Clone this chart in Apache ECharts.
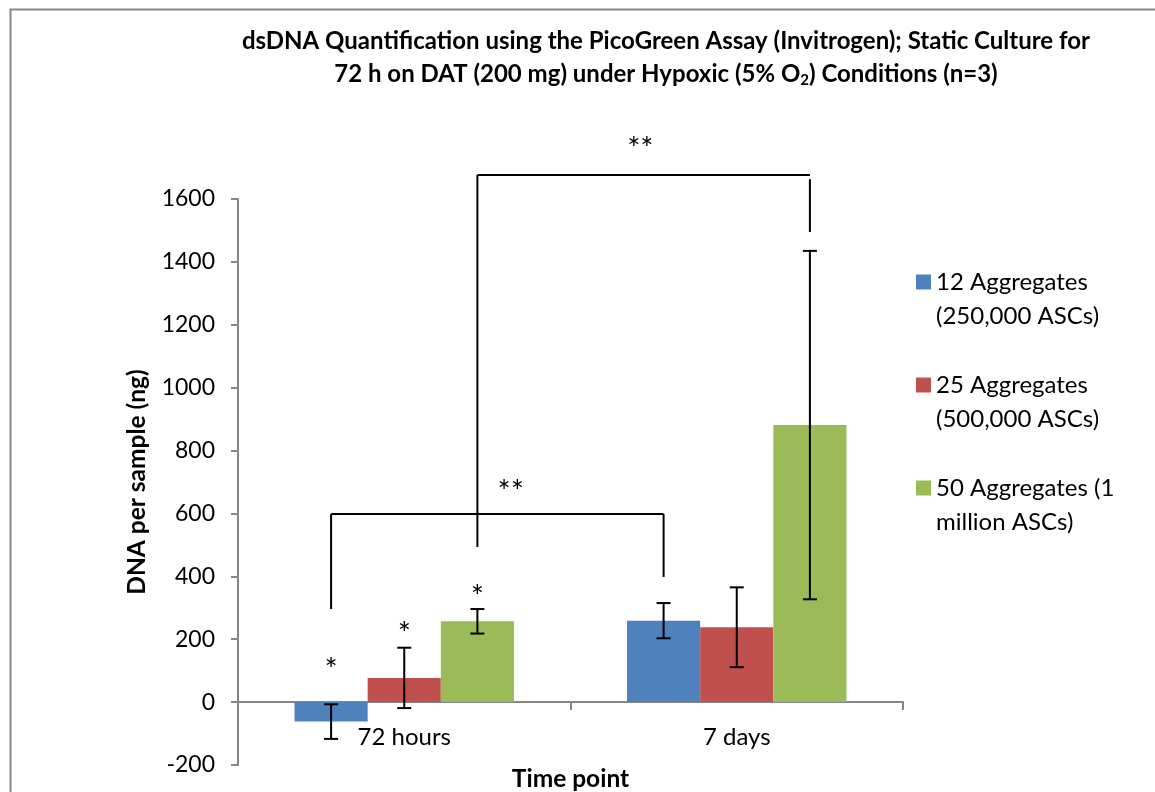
<!DOCTYPE html>
<html>
<head>
<meta charset="utf-8">
<script src="https://cdn.jsdelivr.net/npm/echarts@6/dist/echarts.min.js"></script>
<style>
html,body{margin:0;padding:0;background:#fff;}
#main{width:1155px;height:792px;}
</style>
</head>
<body>
<div id="main"></div>
<script>
// ---- data ----
const categories = ['72 hours', '7 days'];
const seriesNames = ['12 Aggregates\n(250,000 ASCs)', '25 Aggregates\n(500,000 ASCs)', '50 Aggregates (1\nmillion ASCs)'];
const agg12 = [-62, 259];
const agg12Err = [55, 56];
const agg25 = [77, 238];
const agg25Err = [96, 127];
const agg50 = [257, 881];
const agg50Err = [39, 554];
const yMin = -200, yMax = 1600, yStep = 200;
// significance annotations: [x (in category bands, 0 = first category), value]
const bracketSegments = [
  [-0.22, 296, -0.22, 598], [-0.22, 598, 0.78, 598], [0.78, 598, 0.78, 398],
  [0.22, 493, 0.22, 1676], [0.22, 1676, 1.22, 1676], [1.22, 1663, 1.22, 1495]
];
const starLabels = [
  [-0.22, 128, '*'], [0, 242, '*'], [0.22, 360, '*'],
  [0.32, 693, '**'], [0.71, 1784, '**']
];

const colors = ['#4F81BD', '#C0504D', '#9BBB59'];
const FONT = 'Lato';
const chart = echarts.init(document.getElementById('main'));

function bandInfo(api) {
  const x0 = api.coord([0, 0])[0];
  const x1 = api.coord([1, 0])[0];
  return { x0: x0, band: x1 - x0 };
}

function errorSeries(means, errs, off) {
  return {
    type: 'custom', z: 10, clip: false,
    data: means.map((m, i) => [i, m - errs[i], m + errs[i]]),
    encode: { x: 0, y: [1, 2] },
    renderItem: function (params, api) {
      const b = bandInfo(api);
      const cat = api.value(0);
      const x = api.coord([cat, 0])[0] + off * b.band;
      const lo = api.coord([cat, api.value(1)])[1];
      const hi = api.coord([cat, api.value(2)])[1];
      const st = { stroke: '#000', lineWidth: 2 };
      const h = 7;
      return { type: 'group', children: [
        { type: 'line', shape: { x1: x, y1: lo, x2: x, y2: hi }, style: st },
        { type: 'line', shape: { x1: x - h, y1: lo, x2: x + h, y2: lo }, style: st },
        { type: 'line', shape: { x1: x - h, y1: hi, x2: x + h, y2: hi }, style: st }
      ]};
    }
  };
}

const barData = [agg12, agg25, agg50];
const errData = [agg12Err, agg25Err, agg50Err];
const offsets = [-0.22, 0, 0.22];

const series = [];
for (let k = 0; k < 3; k++) {
  series.push({
    name: seriesNames[k], type: 'bar', data: barData[k],
    barWidth: '22%', barGap: '0%',
    itemStyle: { color: colors[k] }
  });
}
for (let k = 0; k < 3; k++) series.push(errorSeries(barData[k], errData[k], offsets[k]));

series.push({
  type: 'custom', z: 12, clip: false, silent: true,
  data: bracketSegments.map(s => [0, s[1], s[3]]),
  encode: { x: 0, y: [1, 2] },
  renderItem: function (params, api) {
    const s = bracketSegments[params.dataIndex];
    const b = bandInfo(api);
    const p1 = api.coord([0, s[1]]), p2 = api.coord([0, s[3]]);
    return { type: 'line',
      shape: { x1: b.x0 + s[0] * b.band, y1: p1[1], x2: b.x0 + s[2] * b.band, y2: p2[1] },
      style: { stroke: '#000', lineWidth: 2 } };
  }
});
series.push({
  type: 'custom', z: 12, clip: false, silent: true,
  data: starLabels.map(s => [0, s[1]]),
  encode: { x: 0, y: 1 },
  renderItem: function (params, api) {
    const s = starLabels[params.dataIndex];
    const b = bandInfo(api);
    const p = api.coord([0, s[1]]);
    return { type: 'text',
      x: b.x0 + s[0] * b.band, y: p[1] + 8,
      style: { text: s[2], fill: '#000', font: '31px ' + FONT, align: 'center', verticalAlign: 'middle' } };
  }
});

chart.setOption({
  animation: false,
  backgroundColor: '#fff',
  textStyle: { fontFamily: FONT },
  title: {
    text: 'dsDNA Quantification using the PicoGreen Assay (Invitrogen); Static Culture for\n72 h on DAT (200 mg) under Hypoxic (5% O{sub|2}) Conditions (n=3)',
    left: 661, top: 20, textAlign: 'center', padding: 5,
    textStyle: {
      fontFamily: FONT, fontSize: 24, fontWeight: 'bold', color: '#000', lineHeight: 33,
      rich: { sub: { fontFamily: FONT, fontSize: 15, fontWeight: 'bold', color: '#000', lineHeight: 16, padding: [11, 0, 0, 0] } }
    }
  },
  graphic: [{
    type: 'rect', left: 8, top: 7, silent: true,
    shape: { width: 1170, height: 800 },
    style: { fill: 'none', stroke: '#868686', lineWidth: 2 }
  }],
  legend: {
    data: seriesNames, orient: 'vertical', left: 911, top: 226,
    itemWidth: 15, itemHeight: 15, itemGap: 1, icon: 'rect',
    formatter: n => '\n' + n,
    textStyle: { fontFamily: FONT, fontSize: 24, color: '#000', lineHeight: 34 }
  },
  grid: { left: 238, right: 252, top: 199, bottom: 27, containLabel: false, outerBoundsMode: 'none' },
  xAxis: {
    type: 'category', data: categories,
    name: 'Time point', nameLocation: 'middle', nameGap: 2,
    nameTextStyle: { fontFamily: FONT, fontSize: 24.5, fontWeight: 'bold', color: '#000' },
    axisLine: { onZero: true, lineStyle: { color: '#868686', width: 2 } },
    axisTick: { show: true, length: 8, interval: 0, lineStyle: { color: '#868686', width: 2 } },
    axisLabel: { fontFamily: FONT, fontSize: 24, color: '#000', margin: -40 },
    splitLine: { show: false }
  },
  yAxis: {
    type: 'value', min: yMin, max: yMax, interval: yStep,
    name: 'DNA per sample (ng)', nameLocation: 'middle', nameGap: 88, nameRotate: 90,
    nameTextStyle: { fontFamily: FONT, fontSize: 24.5, fontWeight: 'bold', color: '#000' },
    axisLine: { show: true, lineStyle: { color: '#868686', width: 2 } },
    axisTick: { show: true, length: 7, lineStyle: { color: '#868686', width: 2 } },
    axisLabel: { fontFamily: FONT, fontSize: 23, color: '#000', margin: 23, formatter: v => String(v) },
    splitLine: { show: false }
  },
  series: series
});
</script>
</body>
</html>
